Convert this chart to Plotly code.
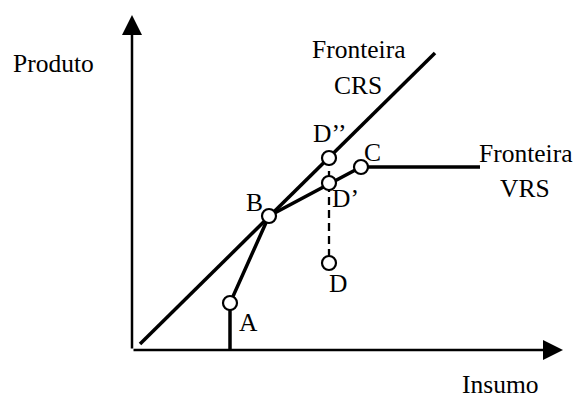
import plotly.graph_objects as go

# schematic values (insumo, produto)
point_names = ["A", "B", "D’’", "D’", "C", "D"]
point_x = [9.8, 13.7, 19.7, 19.7, 22.9, 19.7]
point_y = [4.7, 13.4, 19.2, 16.7, 18.3, 8.7]

crs_x = [0.8, 30.3]
crs_y = [0.6, 29.7]

vrs_x = [9.8, 9.8, 13.7, 22.9, 34.8]
vrs_y = [0.0, 4.7, 13.4, 18.3, 18.3]

proj_x = [19.7, 19.7]
proj_y = [19.2, 8.7]

x_max, y_max = 43.1, 33.5

FONT = dict(family="Liberation Serif, Times New Roman, serif", size=25.5, color="black")

fig = go.Figure()
fig.add_trace(go.Scatter(x=proj_x, y=proj_y, mode="lines",
                         line=dict(color="black", width=2.3, dash="8px,5px")))
fig.add_trace(go.Scatter(x=crs_x, y=crs_y, mode="lines", line=dict(color="black", width=3.5)))
fig.add_trace(go.Scatter(x=vrs_x, y=vrs_y, mode="lines", line=dict(color="black", width=3.5)))
fig.add_trace(go.Scatter(x=point_x, y=point_y, mode="markers",
                         marker=dict(size=14, color="white", line=dict(color="black", width=2.2))))

# axes with arrows
fig.add_annotation(x=0, y=y_max, ax=0, ay=0, xref="x", yref="y", axref="x", ayref="y",
                   showarrow=True, arrowhead=2, arrowsize=1.6, arrowwidth=2.5, arrowcolor="black", text="")
fig.add_annotation(x=x_max, y=0, ax=0, ay=0, xref="x", yref="y", axref="x", ayref="y",
                   showarrow=True, arrowhead=2, arrowsize=1.6, arrowwidth=2.5, arrowcolor="black", text="")

label_offsets = {"A": (1.8, -1.9), "B": (-1.5, 1.4), "D’’": (0.1, 2.5),
                 "D’": (1.6, -1.5), "C": (1.1, 1.5), "D": (0.9, -2.0)}
for name, px_, py_ in zip(point_names, point_x, point_y):
    dx, dy = label_offsets[name]
    fig.add_annotation(x=px_ + dx, y=py_ + dy, text=name, showarrow=False, font=FONT)

texts = [("Fronteira", 22.6, 30.1), ("CRS", 22.6, 26.5), ("Fronteira", 39.3, 19.7),
         ("VRS", 39.3, 16.2), ("Produto", -7.9, 28.7), ("Insumo", 36.8, -3.4)]
for t, tx, ty in texts:
    fig.add_annotation(x=tx, y=ty, text=t, showarrow=False, font=FONT)

fig.update_layout(
    width=575, height=398, margin=dict(l=0, r=0, t=0, b=0),
    plot_bgcolor="white", paper_bgcolor="white", showlegend=False,
    xaxis=dict(range=[-13.2, 44.3], visible=False, fixedrange=True),
    yaxis=dict(range=[-4.8, 35.0], visible=False, fixedrange=True),
)
fig.write_html("out.html", config={"displayModeBar": False},
               post_script="document.body.style.margin='0';document.body.style.overflow='hidden';")
